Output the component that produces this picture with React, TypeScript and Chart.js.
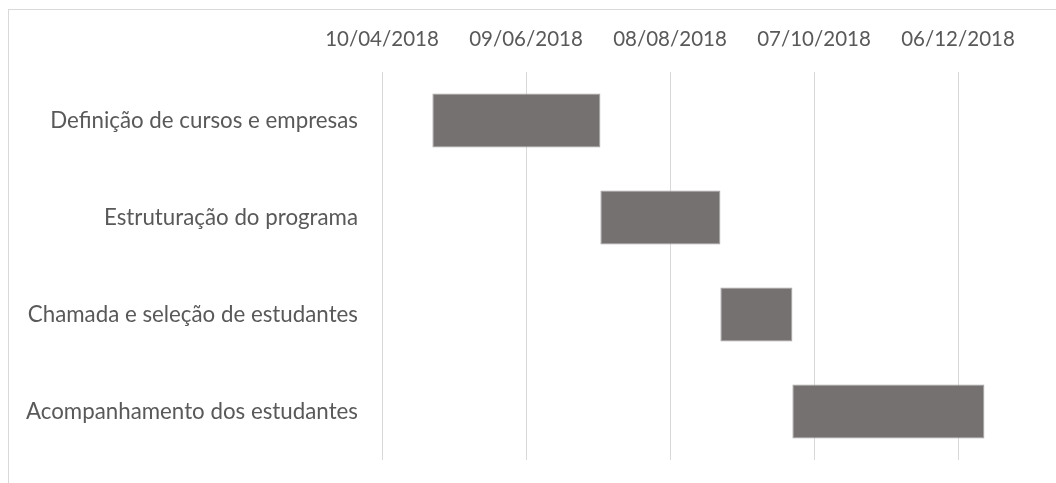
import React, { useEffect, useRef } from "react";
import { Chart, registerables } from "chart.js";

Chart.register(...registerables);

// Task names (categories)
const tasks = [
  "Definição de cursos e empresas",
  "Estruturação do programa",
  "Chamada e seleção de estudantes",
  "Acompanhamento dos estudantes",
];
// Start / end as Excel date serials
const startDates = [43221, 43291, 43341, 43371];
const endDates = [43291, 43341, 43371, 43451];
// Axis tick values (Excel serials) and bounds
const tickValues = [43200, 43260, 43320, 43380, 43440];
const axisMin = 43200;
const axisMax = 43470;

function serialToLabel(serial: number): string {
  const d = new Date(Date.UTC(1899, 11, 30) + serial * 86400000);
  const dd = String(d.getUTCDate()).padStart(2, "0");
  const mm = String(d.getUTCMonth() + 1).padStart(2, "0");
  return `${dd}/${mm}/${d.getUTCFullYear()}`;
}

export default function App() {
  const ref = useRef<HTMLCanvasElement | null>(null);
  useEffect(() => {
    if (!ref.current) return;
    const family = "Lato, 'Open Sans', sans-serif";
    const chart = new Chart(ref.current, {
      type: "bar",
      data: {
        labels: tasks,
        datasets: [
          {
            data: tasks.map((_, i) => [startDates[i], endDates[i]]) as any,
            backgroundColor: "#767171",
            borderColor: "#a5a2a2",
            borderWidth: 1,
            borderSkipped: false,
            categoryPercentage: 1,
            barPercentage: 0.557,
          },
        ],
      },
      options: {
        indexAxis: "y",
        responsive: false,
        animation: false,
        layout: { padding: { left: 0, top: 0, right: 26, bottom: 23 } },
        plugins: { legend: { display: false }, tooltip: { enabled: false } },
        scales: {
          x: {
            type: "linear",
            position: "top",
            min: axisMin,
            max: axisMax,
            afterBuildTicks: (scale: any) => {
              scale.ticks = tickValues.map((v) => ({ value: v }));
            },
            afterFit: (scale: any) => {
              scale.height = 72;
              scale.paddingLeft = 0;
              scale.paddingRight = 0;
            },
            ticks: {
              color: "#595959",
              font: { family, size: 20.5 },
              padding: 20,
              maxRotation: 0,
              autoSkip: false,
              callback: (v: any) => serialToLabel(Number(v)),
            },
            grid: { color: "#d9d9d9", lineWidth: 1, drawTicks: false },
            border: { display: false },
          },
          y: {
            afterFit: (scale: any) => {
              scale.width = 382;
              scale.paddingTop = 0;
              scale.paddingBottom = 0;
            },
            ticks: { color: "#595959", font: { family, size: 22.3 }, padding: 24 },
            grid: { display: false, drawTicks: false },
            border: { display: false },
          },
        },
      },
    });
    return () => chart.destroy();
  }, []);
  return (
    <div
      style={{
        position: "fixed",
        left: 0,
        top: 0,
        width: 1056,
        height: 483,
        overflow: "hidden",
        background: "#ffffff",
      }}
    >
      <div
        style={{
          position: "absolute",
          left: 8,
          top: 9,
          width: 2000,
          height: 2000,
          border: "1px solid #d9d9d9",
        }}
      />
      <canvas
        ref={ref}
        width={1056}
        height={483}
        style={{ position: "absolute", left: 0, top: 0 }}
      />
    </div>
  );
}
